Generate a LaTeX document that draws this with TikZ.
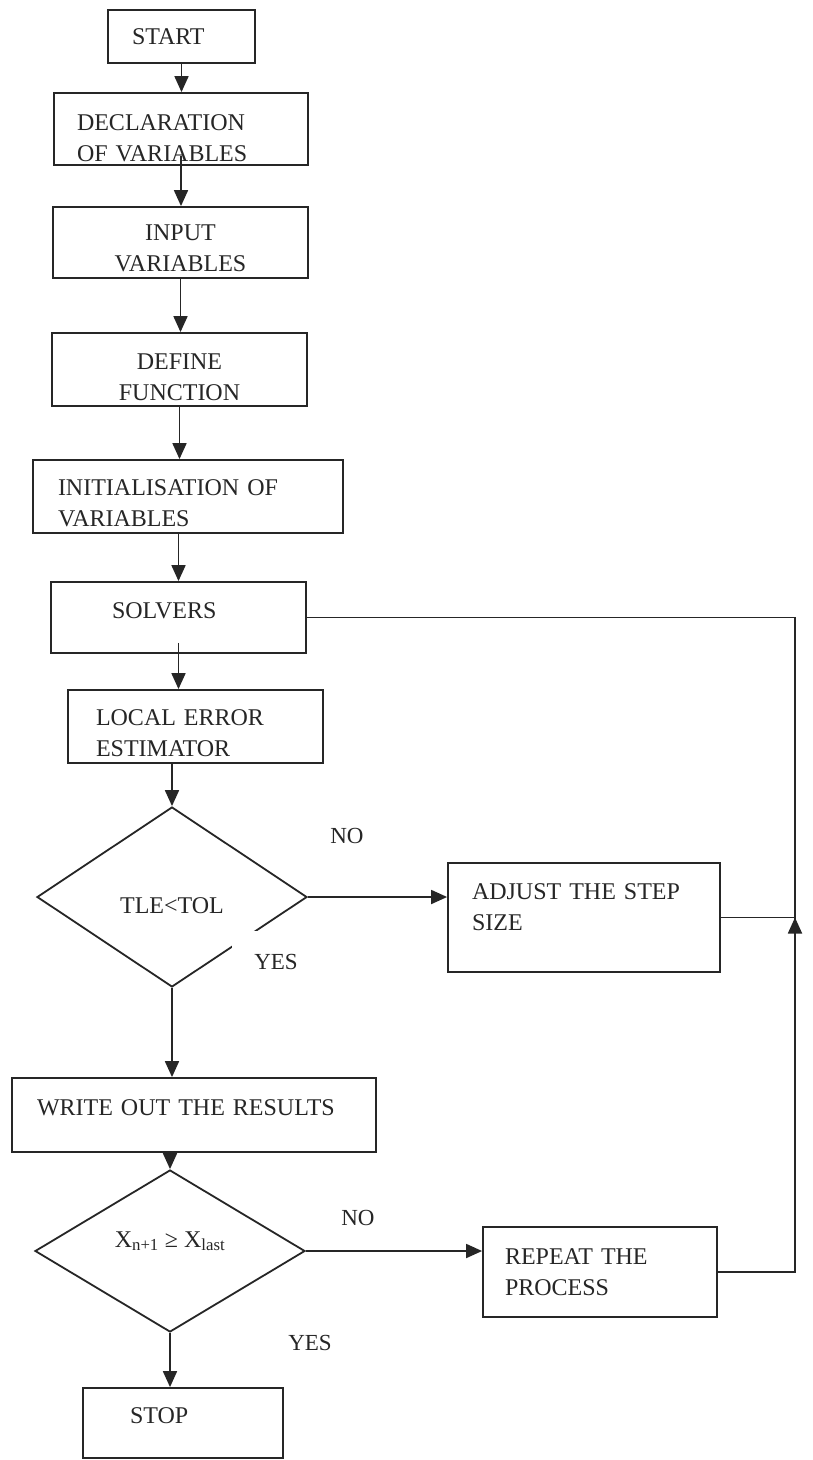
\documentclass[tikz,border=0pt]{standalone}
\usepackage{fontspec}
\setmainfont{Liberation Serif}
\usetikzlibrary{arrows.meta,shapes.geometric}
\definecolor{ink}{HTML}{262626}
\tikzset{
  proc/.style ={draw=ink, line width=1.8pt, inner ysep=0pt, align=left, text=ink,
                font=\fontsize{24}{31}\selectfont},
  dec/.style  ={diamond, draw=ink, line width=1.8pt, inner sep=0pt, text=ink,
                font=\fontsize{24}{28}\selectfont, minimum width=270pt},
  fl/.style   ={draw=ink, line width=1.8pt, -{Triangle[length=16pt,width=14pt]}},
  gl/.style   ={draw=ink, line width=1.8pt},
  w/.style    ={font=\fontsize{23}{26}\selectfont, text=ink, inner sep=0pt},
}
% push the text of a box down (taller first line) or up (space below)
\newcommand{\tdown}[1]{\rule{0pt}{#1}}
\newcommand{\tup}[1]{\par\vspace*{#1}}

\begin{document}
\begin{tikzpicture}[x=1pt,y=-1pt]
  \useasboundingbox[fill=white] (0,0) rectangle (812,1460);
  \def\railx{795}   % right-hand return line

  % ---------------- main column ----------------------------------------------
  \node[proc, minimum height=53pt, inner xsep=24pt, text width=99pt]  (nstart) at (181.5,36.5) {START};
  \node[proc, minimum height=72pt, inner xsep=23pt, text width=208pt] (ndecl)  at (181,129)    {\tdown{34pt}DECLARATION\\OF VARIABLES};
  \node[proc, align=center, minimum height=71pt, inner xsep=20pt, text width=215pt] (ninput) at (180.5,242.5) {\tdown{28pt}INPUT\\VARIABLES};
  \node[proc, align=center, minimum height=73pt, inner xsep=20pt, text width=215pt] (ndef)   at (179.5,369.5) {\tdown{31pt}DEFINE\\FUNCTION};
  \node[proc, minimum height=73pt, inner xsep=25pt, text width=260pt] (ninit)  at (188,496.5)  {\tdown{29pt}INITIALISATION OF\\VARIABLES};
  \node[proc, minimum height=71pt, inner xsep=61pt, text width=133pt] (nsolve) at (178.5,617.5) {SOLVERS\tup{14pt}};
  \node[proc, minimum height=73pt, inner xsep=28pt, text width=199pt] (nlee)   at (195.5,726.5) {\tdown{29pt}LOCAL ERROR\\ESTIMATOR};
  \node[dec, minimum height=180pt, text height=32pt, text depth=0pt] (ntle) at (172,897) {TLE<TOL};
  \node[proc, minimum height=74pt, inner xsep=25pt, text width=314pt] (nwrite) at (194,1115)   {WRITE OUT THE RESULTS\tup{14pt}};
  \node[dec, minimum height=162pt, text height=16pt, text depth=24pt] (ncmp) at (170,1251) {X\textsubscript{n+1} ≥ X\textsubscript{last}};
  \node[proc, minimum height=70pt, inner xsep=47pt, text width=106pt] (nstop)  at (183,1423)   {STOP\tup{14pt}};

  % ---------------- side boxes -----------------------------------------------
  \node[proc, minimum height=109pt, inner xsep=24pt, text width=224pt] (nadj) at (584,917.5) {ADJUST THE STEP\\SIZE\tup{20pt}};
  \node[proc, minimum height=90pt, inner xsep=22pt, text width=190pt]  (nrep) at (600,1272)  {REPEAT THE\\PROCESS};

  % branch labels (the first YES box hides a bit of the diamond edge)
  \node[w] (lno1) at (347,836) {NO};
  \node[w, fill=white, inner xsep=22pt, inner ysep=23pt] (lyes1) at (276,962) {YES};
  \node[w] (lno2) at (358,1218) {NO};
  \node[w] (lyes2) at (310,1343) {YES};

  % ---------------- flow -----------------------------------------------------
  \draw[fl] (nstart.south) -- (nstart.south |- ndecl.north);
  \draw[fl] (ndecl.south) ++(0,-10) -- (ndecl.south |- ninput.north);
  \draw[fl] (ninput.south) -- (ninput.south |- ndef.north);
  \draw[fl] (ndef.south)   -- (ndef.south |- ninit.north);
  \draw[fl] (nsolve.north |- ninit.south) -- (nsolve.north);
  \draw[fl] (nsolve.south) ++(0,-11) -- (nsolve.south |- nlee.north);
  \draw[fl] (ntle.north |- nlee.south) -- (ntle.north);
  \draw[fl] (ntle.south)   -- (ntle.south |- nwrite.north);
  \draw[fl] (ncmp.north |- nwrite.south) -- (ncmp.north);
  \draw[fl] (ncmp.south)   -- (ncmp.south |- nstop.north);
  \draw[fl] (ntle.east) -- (ntle.east -| nadj.west);
  \draw[fl] (ncmp.east) -- (ncmp.east -| nrep.west);

  % the return line on the right, back up to the solvers
  \coordinate (rail) at (\railx,0);
  \coordinate (join) at (rail |- nadj.east);
  \draw[gl] (nsolve.east) -| (rail |- nrep.east) -- (nrep.east);
  \draw[gl] (nadj.east) -- (join);
  \draw[fl] (join) ++(0,24) -- (join);
\end{tikzpicture}
\end{document}
